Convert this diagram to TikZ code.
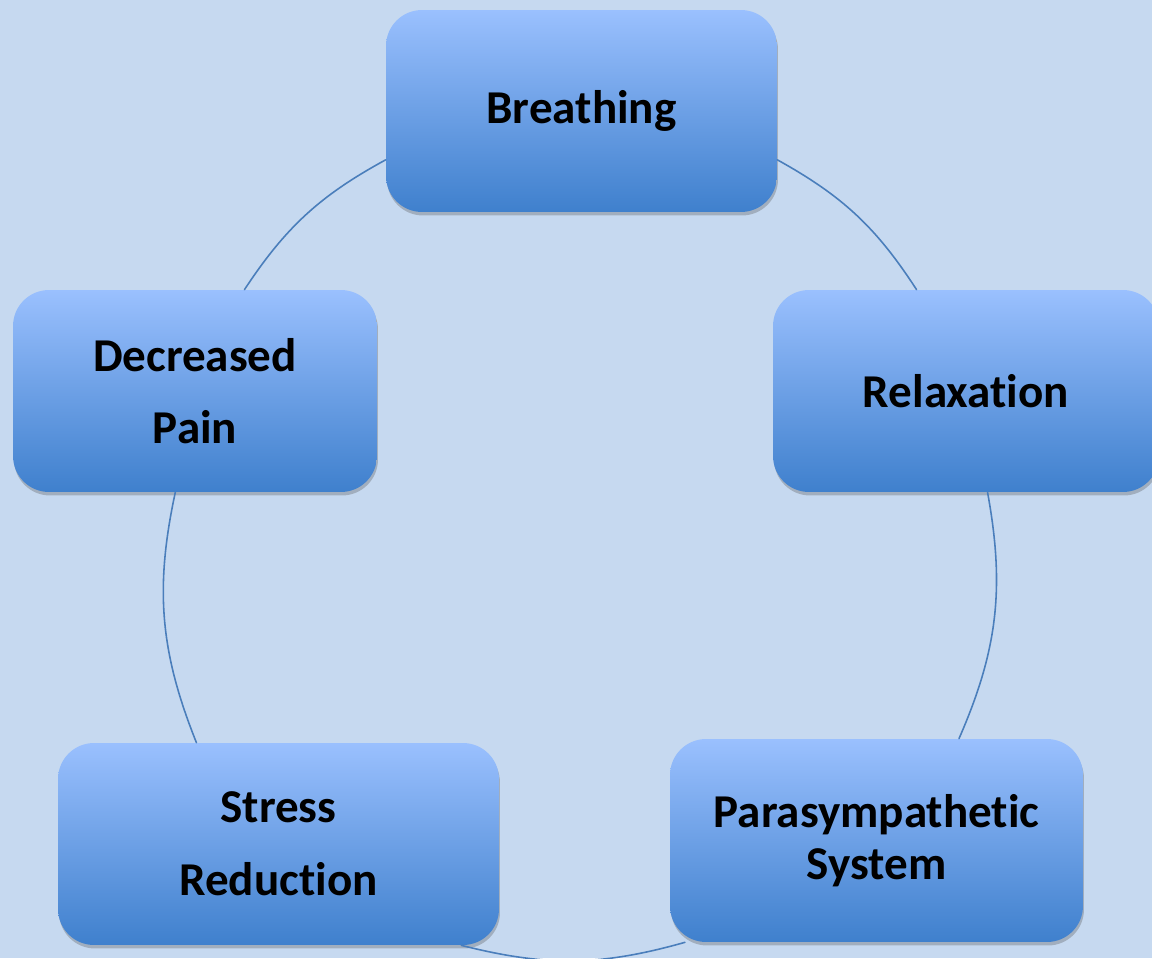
\documentclass[tikz,border=0pt]{standalone}
\usepackage{fontspec}
\setmainfont{Carlito}[Ligatures={NoCommon,NoRare}]
\usetikzlibrary{shadows}
\definecolor{bgblue}{HTML}{C6D9F0}
\definecolor{boxtop}{HTML}{9AC0FE}
\definecolor{boxmid}{HTML}{7EA8EC}
\definecolor{boxbot}{HTML}{3F80CD}
\definecolor{arcblue}{HTML}{4A7EBB}
\tikzset{
  phase/.style={rectangle,rounded corners=0.72cm,minimum height=4.04cm,
    inner sep=0pt,align=center,
    top color=boxtop,middle color=boxmid,bottom color=boxbot,
    font=\bfseries\fontsize{26.8}{29.3}\selectfont,
    drop shadow={shadow xshift=0.02cm,shadow yshift=-0.07cm,opacity=0.3,fill=black!70}},
  cycleline/.style={draw=arcblue,line width=0.9pt}
}
\begin{document}
\begin{tikzpicture}[x=0.02cm,y=0.02cm,line cap=round,line join=round]
\path[use as bounding box,fill=bgblue] (0,0) rectangle (1152,958);
\path
(581.5,847) node[phase,minimum width=7.82cm] (breath) {Breathing}
(966,567) node[phase,minimum width=7.72cm] (relax) {Relaxation}
(876.5,117.5) node[phase,minimum width=8.26cm,minimum height=4.06cm] (para) {Parasympathetic\\System}
(278.5,114) node[phase,minimum width=8.82cm] (stress) {Stress\\[12pt]Reduction}
(195,567) node[phase,minimum width=7.28cm] (pain) {Decreased\\[12pt]Pain}
;
\draw[cycleline] (breath.-14.5) to[bend left=14] (relax.116);
\draw[cycleline] (relax.-78.5) to[bend left=17] (para.51);
\draw[cycleline] (para.208) to[bend left=15] (stress.-29);
\draw[cycleline] (stress.129) to[bend left=17] (pain.-101);
\draw[cycleline] (pain.64) to[bend left=14] (breath.194.5);
\end{tikzpicture}
\end{document}
